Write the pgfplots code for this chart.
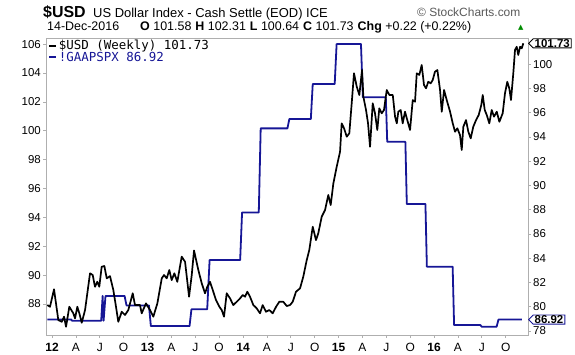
\documentclass[border=0pt]{standalone}
\usepackage{pgfplots}
\pgfplotsset{compat=1.18}
\usepackage{fontspec}
\setmainfont{Liberation Sans}
\newfontfamily\monofont{DejaVu Sans Mono}
\newfontfamily\symfont{DejaVu Sans}
\usetikzlibrary{shapes.symbols}
\definecolor{gaap}{RGB}{22,22,150}
\definecolor{frame}{RGB}{175,175,175}
\definecolor{tri}{RGB}{0,140,0}
\pgfplotstableread{
t v
2011.951 80.14
2011.979 80.00
2012.021 81.44
2012.066 78.90
2012.102 78.76
2012.126 79.18
2012.147 78.35
2012.181 80.00
2012.223 79.46
2012.241 79.04
2012.265 80.00
2012.286 79.46
2012.311 78.68
2012.346 79.73
2012.398 82.76
2012.426 82.62
2012.450 81.65
2012.474 82.06
2012.495 81.65
2012.520 83.30
2012.548 83.36
2012.573 82.34
2012.607 82.53
2012.642 81.38
2012.670 80.00
2012.694 78.76
2012.730 79.59
2012.764 79.32
2012.799 79.73
2012.845 81.11
2012.869 80.14
2012.921 80.14
2012.939 79.46
2012.984 80.28
2013.026 79.73
2013.061 79.18
2013.103 80.28
2013.149 82.34
2013.173 82.62
2013.201 82.34
2013.228 83.03
2013.253 82.20
2013.281 82.76
2013.312 82.06
2013.358 84.13
2013.393 83.71
2013.435 80.83
2013.463 82.62
2013.487 84.64
2013.532 83.03
2013.568 81.93
2013.602 81.11
2013.626 81.65
2013.654 82.06
2013.683 81.38
2013.717 80.55
2013.752 80.00
2013.777 79.73
2013.801 79.18
2013.829 81.11
2013.864 80.69
2013.898 80.14
2013.934 80.41
2013.969 80.69
2013.997 80.97
2014.021 80.83
2014.045 81.24
2014.073 80.83
2014.108 80.14
2014.143 79.87
2014.178 79.46
2014.206 80.14
2014.241 79.59
2014.275 79.73
2014.311 79.46
2014.346 80.00
2014.380 80.41
2014.422 80.41
2014.458 80.06
2014.492 80.14
2014.520 80.41
2014.555 81.24
2014.597 81.52
2014.631 82.48
2014.667 83.85
2014.694 84.68
2014.730 86.60
2014.764 85.50
2014.788 86.06
2014.824 87.43
2014.859 87.98
2014.893 89.22
2014.918 88.39
2014.946 90.18
2014.981 91.55
2015.016 92.79
2015.033 95.13
2015.058 94.72
2015.086 94.03
2015.113 94.31
2015.138 96.78
2015.162 99.26
2015.191 98.15
2015.218 97.47
2015.246 99.53
2015.260 97.33
2015.288 96.23
2015.309 95.13
2015.330 93.20
2015.358 96.78
2015.382 95.96
2015.406 94.58
2015.427 96.37
2015.452 95.96
2015.476 96.23
2015.505 97.88
2015.532 97.47
2015.568 97.47
2015.592 95.68
2015.610 95.13
2015.626 96.09
2015.651 96.23
2015.672 95.13
2015.696 96.09
2015.720 95.40
2015.749 94.58
2015.777 97.05
2015.801 96.91
2015.819 99.26
2015.846 99.12
2015.871 99.94
2015.895 98.29
2015.916 98.02
2015.940 98.56
2015.965 98.43
2015.986 98.70
2016.010 99.39
2016.035 99.53
2016.063 97.88
2016.081 96.09
2016.105 97.88
2016.133 97.05
2016.168 96.09
2016.196 95.13
2016.220 94.44
2016.244 94.72
2016.272 94.17
2016.290 92.93
2016.307 94.85
2016.335 95.40
2016.359 94.44
2016.384 93.89
2016.411 94.85
2016.440 95.40
2016.468 95.82
2016.495 96.64
2016.510 97.47
2016.531 96.23
2016.552 95.82
2016.579 95.13
2016.604 96.23
2016.628 95.68
2016.657 96.09
2016.684 95.26
2016.719 95.96
2016.743 97.61
2016.767 98.56
2016.788 98.02
2016.806 97.05
2016.830 99.26
2016.848 101.18
2016.866 101.45
2016.882 100.77
2016.901 101.45
2016.918 101.32
2016.935 101.73
}\usd
\pgfplotstableread{
t v
2011.951 86.93
2012.199 86.93
2012.210 86.84
2012.515 86.84
2012.530 88.55
2012.540 86.84
2012.560 88.55
2012.760 88.55
2012.780 87.90
2013.015 87.90
2013.035 86.47
2013.440 86.47
2013.460 87.63
2013.625 87.63
2013.650 91.04
2013.970 91.04
2013.990 94.34
2014.165 94.34
2014.185 100.16
2014.465 100.16
2014.485 100.81
2014.710 100.81
2014.730 103.23
2014.960 103.23
2014.980 106.00
2015.235 106.00
2015.255 102.31
2015.495 102.31
2015.510 99.23
2015.700 99.23
2015.715 94.92
2015.910 94.92
2015.925 90.58
2016.195 90.58
2016.210 86.54
2016.485 86.54
2016.500 86.42
2016.655 86.42
2016.675 86.92
2016.921 86.92
}\gaap
\begin{document}
\begin{tikzpicture}
\path[use as bounding box] (0,0) rectangle (575bp,355bp);
% header
\node[anchor=base west, inner sep=0pt, font=\bfseries\fontsize{16}{16}\selectfont] at (43bp,337bp) {\$USD};
\node[anchor=base west, inner sep=0pt, font=\fontsize{13}{13}\selectfont] at (93bp,337bp) {US Dollar Index - Cash Settle (EOD) ICE};
\node[anchor=base west, inner sep=0pt, font=\fontsize{12}{12}\selectfont, text=black!65] at (417bp,338bp) {© StockCharts.com};
\node[anchor=base west, inner sep=0pt, font=\fontsize{12.5}{12.5}\selectfont] at (47bp,324bp) {14-Dec-2016};
\node[anchor=base west, inner sep=0pt, font=\fontsize{12.5}{12.5}\selectfont] at (140bp,324bp) {\textbf{O} 101.58\hspace{4bp}\textbf{H} 102.31\hspace{4bp}\textbf{L} 100.64\hspace{4bp}\textbf{C} 101.73\hspace{4bp}\textbf{Chg} +0.22 (+0.22\%)};
\node[anchor=base west, inner sep=0pt, font=\symfont\fontsize{7}{7}\selectfont, text=tri] at (518bp,325bp) {▲};

\begin{axis}[
  at={(46bp,20bp)}, anchor=south west,
  scale only axis, width=482bp, height=297bp,
  xmin=2011.937, xmax=2016.984,
  ymin=85.85, ymax=106.42,
  clip=false,
  axis line style={draw=frame, line width=0.8bp},
  tick style={draw=frame, line width=0.6bp},
  tick align=outside,
  major tick length=3bp,
  xtick pos=lower, ytick pos=left,
  xtick={2012,2012.25,2012.5,2012.75,2013,2013.25,2013.5,2013.75,2014,2014.25,2014.5,2014.75,2015,2015.25,2015.5,2015.75,2016,2016.25,2016.5,2016.75},
  xticklabels={\textbf{12},A,J,O,\textbf{13},A,J,O,\textbf{14},A,J,O,\textbf{15},A,J,O,\textbf{16},A,J,O},
  ytick={88,90,...,106},
  /pgf/number format/assume math mode=true,
  yticklabel style={font=\fontsize{11.5}{12}\selectfont, inner sep=0pt, anchor=east, xshift=-2bp},
  xticklabel style={font=\fontsize{12}{12}\selectfont, inner sep=0pt, anchor=base, yshift=-13bp},
  legend style={at={(0,1)}, anchor=north west, draw=none, fill=none, inner sep=0pt, xshift=2bp, yshift=-1bp,
    font=\monofont\fontsize{12.5}{13}\selectfont, row sep=-2bp, nodes={inner sep=1.2bp}},
  legend cell align=left,
  legend image code/.code={\draw[#1, line width=2.5bp] (0bp,0bp) -- (7bp,0bp);},
]
\addlegendimage{black, line width=1.7bp}
\addlegendentry{\$USD (Weekly) 101.73}
\addplot[gaap, line width=1.8bp, line join=round] table[x=t, y=v] {\gaap};
\addlegendentry{\textcolor{gaap}{!GAAPSPX 86.92}}
\coordinate (gend) at (axis cs:2016.984,86.92);
\end{axis}

\begin{axis}[
  at={(46bp,20bp)}, anchor=south west,
  scale only axis, width=482bp, height=297bp,
  xmin=2011.937, xmax=2016.984,
  ymin=77.67, ymax=102.17,
  clip=false,
  axis x line=none,
  axis y line*=right,
  axis line style={draw=frame, line width=0.8bp, -},
  tick style={draw=frame, line width=0.6bp},
  tick align=outside,
  major tick length=3bp,
  ytick={78,80,...,100},
  /pgf/number format/assume math mode=true,
  yticklabel style={font=\fontsize{11.5}{12}\selectfont, inner sep=0pt, anchor=west, xshift=2bp},
]
\addplot[black, line width=1.7bp, line join=round] table[x=t, y=v] {\usd};
\coordinate (uend) at (axis cs:2016.984,101.73);
\end{axis}

\node[signal, signal to=west, draw=gaap, fill=white, line width=0.9bp, inner xsep=1.5bp, inner ysep=0.5bp,
  font=\bfseries\fontsize{11.5}{12}\selectfont, anchor=west] at (gend) {86.92};
\node[signal, signal to=west, draw=black, fill=white, line width=0.9bp, inner xsep=1.5bp, inner ysep=0.5bp,
  font=\bfseries\fontsize{11.5}{12}\selectfont, anchor=west] at (uend) {101.73};
\end{tikzpicture}
\end{document}
